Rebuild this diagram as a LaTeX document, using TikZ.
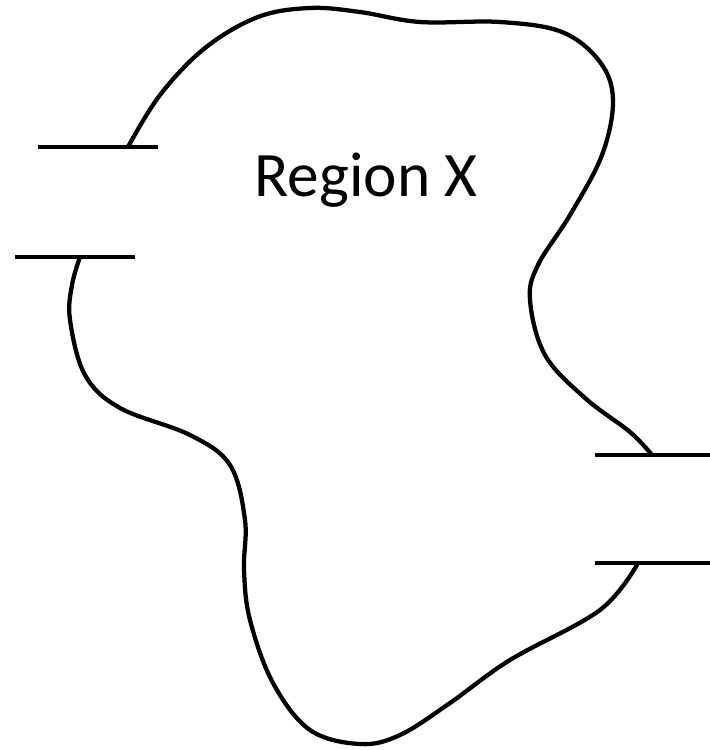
\documentclass[tikz,border=0pt]{standalone}
\usepackage{fontspec}
\setmainfont{Carlito}
\begin{document}
\begin{tikzpicture}[x=0.75pt,y=-0.75pt,
  edge/.style={line width=3.2pt,line cap=butt},
  lbl/.style={font=\fontsize{47.5}{57}\selectfont,inner sep=0pt,anchor=base}]
\useasboundingbox (0,0) rectangle (710,750);
% terminals
\coordinate (a1) at (38,147); \coordinate (a2) at (158,147);
\coordinate (b1) at (15,257); \coordinate (b2) at (135,257);
\coordinate (c1) at (595,455); \coordinate (c2) at (710,455);
\coordinate (d1) at (595,563); \coordinate (d2) at (710,563);
\draw[edge] (a1) -- (a2);
\draw[edge] (b1) -- (b2);
\draw[edge] (c1) -- (c2);
\draw[edge] (d1) -- (d2);
% boundary, upper part
\draw[edge] plot[smooth,tension=0.6] coordinates {
 (128,147) (160,95) (205,48) (258,17) (310,8) (360,12) (420,22) (500,22)
 (562,32) (600,62) (613,100) (602,155) (570,215) (538,265) (530,300)
 (545,355) (585,398) (630,432) (652,455)};
% boundary, lower part
\draw[edge] plot[smooth,tension=0.6] coordinates {
 (638,563) (600,610) (510,660) (450,703) (400,735) (360,744) (310,730)
 (273,683) (250,620) (244,570) (245,520) (230,465) (190,435) (120,408)
 (85,375) (70,320) (72,285) (80,257)};
\node[lbl] (t) at (366,196) {Region X};
\end{tikzpicture}
\end{document}
